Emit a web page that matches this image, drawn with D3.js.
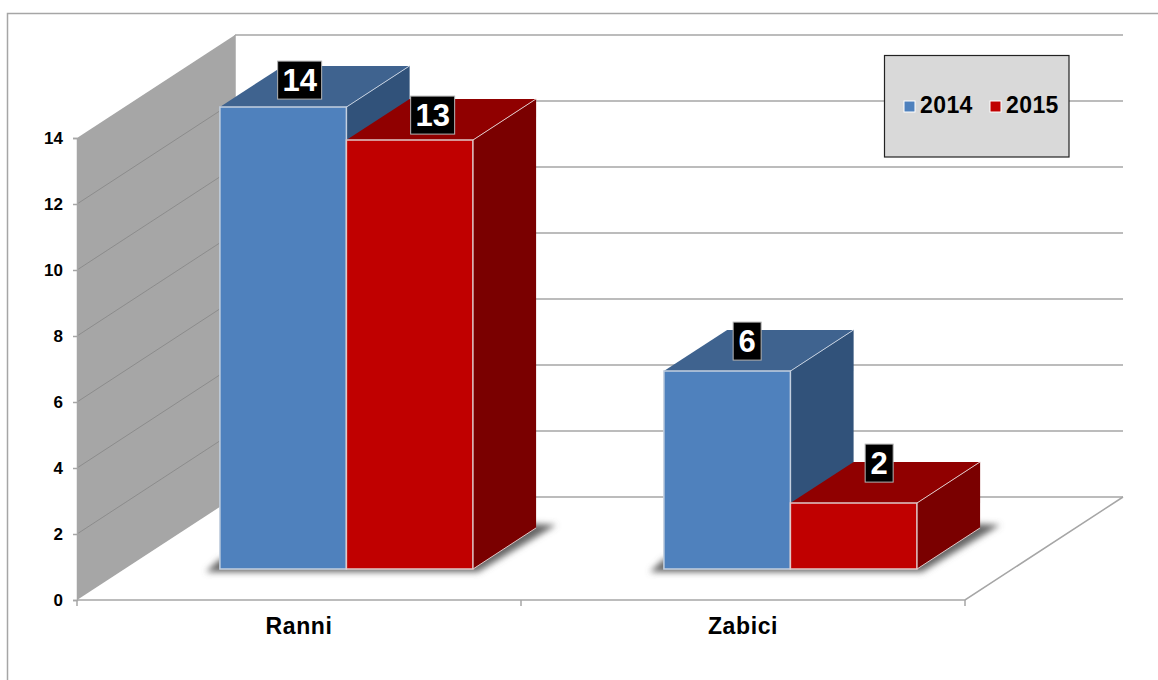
<!DOCTYPE html>
<html>
<head>
<meta charset="utf-8">
<script src="https://cdn.jsdelivr.net/npm/d3@7"></script>
<style>
  html, body { margin: 0; background: #fff; }
  svg { display: block; }
  text { font-family: "Liberation Sans", Arial, sans-serif; font-weight: bold; fill: #000; }
</style>
</head>
<body>
<div class="app"></div>
<script>
var categories = ["Ranni", "Zabici"];
var seriesNames = ["2014", "2015"];
var values2014 = [14, 6];
var values2015 = [13, 2];
var yTicks = [0, 2, 4, 6, 8, 10, 12, 14];

var width = 1158, height = 680;

// the 3d box: front plane of the chart plus the shift to the back wall
var depthX = 158, depthY = -103;
var barFront = 0.3, barBack = 0.7;

var colors = {
  "2014": {front: "#4f81bd", top: "#3f638f", side: "#31527a", edge: "#c3cfdf"},
  "2015": {front: "#c00000", top: "#900000", side: "#7a0000", edge: "#e0c8c8"}
};

var x = d3.scaleBand().domain(categories).range([77, 965]);
var y = d3.scaleLinear().domain([0, 14]).range([600, 138]);
var inner = d3.scaleBand().domain(seriesNames).range([-126.5, 126.5]);

var svg = d3.select(".app").append("svg")
    .attr("width", width)
    .attr("height", height);

var defs = svg.append("defs");
defs.append("filter").attr("id", "soft")
    .attr("x", "-10%").attr("y", "-30%").attr("width", "120%").attr("height", "160%")
  .append("feGaussianBlur").attr("stdDeviation", 3);

// project a point from chart space (px along x, value, depth 0..1) to the screen
function pt(px, value, depth) {
  return [px + depth * depthX, y(value) + depth * depthY];
}
var poly = d3.line();

// outer frame, cut off by the page on the right and bottom
svg.append("path")
    .attr("d", poly([[7.5, height], [7.5, 13.5], [width, 13.5]]))
    .attr("fill", "none")
    .attr("stroke", "#a6a6a6")
    .attr("stroke-width", 1.5);

var x0 = x.range()[0], x1 = x.range()[1];

// side wall
svg.append("path")
    .attr("d", poly([pt(x0, 0, 0), pt(x0, 14, 0), pt(x0, 14, 1), pt(x0, 0, 1)]) + "Z")
    .attr("fill", "#a6a6a6");

// gridlines on the side wall
svg.append("g").selectAll("path")
    .data(yTicks.slice(1, -1))
  .join("path")
    .attr("d", function(d) { return poly([pt(x0, d, 0), pt(x0, d, 1)]); })
    .attr("stroke", "#8c8c8c")
    .attr("stroke-width", 1);

// gridlines on the back wall
svg.append("g").selectAll("path")
    .data(yTicks)
  .join("path")
    .attr("d", function(d) { return poly([pt(x0, d, 1), pt(x1, d, 1)]); })
    .attr("stroke", "#a6a6a6")
    .attr("stroke-width", 1.5);

// back wall left edge and floor outline
svg.append("path")
    .attr("d", poly([pt(x0, 0, 1), pt(x0, 14, 1)]))
    .attr("stroke", "#a6a6a6").attr("stroke-width", 1.5);
svg.append("path")
    .attr("d", poly([pt(x0, 0, 0), pt(x1, 0, 0), pt(x1, 0, 1)]))
    .attr("fill", "none").attr("stroke", "#a6a6a6").attr("stroke-width", 1.5);

// y axis
var yAxis = svg.append("g")
    .attr("transform", "translate(" + x0 + ",0)")
    .call(d3.axisLeft(y).tickValues(yTicks).tickSize(4).tickPadding(10).tickFormat(d3.format("d")));
yAxis.select(".domain").attr("stroke", "#a6a6a6").attr("stroke-width", 1.5);
yAxis.selectAll("line").attr("stroke", "#a6a6a6").attr("stroke-width", 1.5);
yAxis.selectAll("text").attr("font-size", 17).attr("font-family", null).attr("font-weight", null);

// x axis labels
var xAxis = svg.append("g")
    .attr("transform", "translate(0," + y(0) + ")")
    .call(d3.axisBottom(x).tickSize(0).tickPadding(18));
xAxis.select(".domain").remove();
xAxis.selectAll("text")
    .attr("font-size", 23)
    .attr("font-family", null)
    .attr("font-weight", null)
    .attr("letter-spacing", 0.6);

// x axis ticks sit between the categories
svg.append("g").selectAll("line")
    .data([x0, x0 + x.bandwidth(), x1])
  .join("line")
    .attr("x1", function(d) { return d; })
    .attr("x2", function(d) { return d; })
    .attr("y1", y(0))
    .attr("y2", y(0) + 6)
    .attr("stroke", "#a6a6a6")
    .attr("stroke-width", 1.5);

// flat list of bars, far series first so the nearer one paints over it
var bars = [];
categories.forEach(function(c, i) {
  bars.push({cat: c, name: "2014", value: values2014[i]});
  bars.push({cat: c, name: "2015", value: values2015[i]});
});
function left(d) { return x(d.cat) + x.bandwidth() / 2 + inner(d.name); }
function right(d) { return left(d) + inner.bandwidth(); }

// shadow on the floor under each category's pair of bars
svg.append("g").selectAll("path")
    .data(categories)
  .join("path")
    .attr("filter", "url(#soft)")
    .attr("fill", "#666")
    .attr("d", function(c) {
      var l = x(c) + x.bandwidth() / 2 + inner.range()[0];
      var r = x(c) + x.bandwidth() / 2 + inner.range()[1];
      var a = pt(l, 0, barFront), b = pt(r, 0, barFront), e = pt(r, 0, barBack);
      return poly([
        [a[0] - 14, a[1] + 3], [b[0] + 5, b[1] + 3],
        [e[0] + 20, e[1] - 3], [e[0], e[1] - 4], [a[0], a[1] - 10]
      ]) + "Z";
    });

var bar = svg.append("g").selectAll("g")
    .data(bars)
  .join("g");

// side, top and front faces
bar.append("path")
    .attr("fill", function(d) { return colors[d.name].side; })
    .attr("d", function(d) {
      return poly([pt(right(d), 0, barFront), pt(right(d), 0, barBack),
                   pt(right(d), d.value, barBack), pt(right(d), d.value, barFront)]) + "Z";
    });
bar.append("path")
    .attr("fill", function(d) { return colors[d.name].top; })
    .attr("d", function(d) {
      return poly([pt(left(d), d.value, barFront), pt(right(d), d.value, barFront),
                   pt(right(d), d.value, barBack), pt(left(d), d.value, barBack)]) + "Z";
    });
bar.append("path")
    .attr("fill", function(d) { return colors[d.name].front; })
    .attr("stroke", function(d) { return colors[d.name].edge; })
    .attr("stroke-width", 1.5)
    .attr("d", function(d) {
      return poly([pt(left(d), 0, barFront), pt(right(d), 0, barFront),
                   pt(right(d), d.value, barFront), pt(left(d), d.value, barFront)]) + "Z";
    });
// light edges running back from the right corners
bar.append("path")
    .attr("fill", "none")
    .attr("stroke", function(d) { return colors[d.name].edge; })
    .attr("stroke-width", 1)
    .attr("d", function(d) {
      return poly([pt(right(d), d.value, barFront), pt(right(d), d.value, barBack)]) +
             poly([pt(right(d), 0, barFront), pt(right(d), 0, barBack)]);
    });

// value labels were placed by hand in the original, so each has its own nudge
var labelNudge = {
  "Ranni2014": [16.5, -27], "Ranni2015": [23, -25],
  "Zabici2014": [20, -30], "Zabici2015": [25.5, -40]
};
var label = svg.append("g").selectAll("g")
    .data(bars)
  .join("g")
    .attr("transform", function(d) {
      var p = pt((left(d) + right(d)) / 2, d.value, barFront);
      var n = labelNudge[d.cat + d.name];
      return "translate(" + (p[0] + n[0]) + "," + (p[1] + n[1]) + ")";
    });
label.append("rect")
    .attr("x", function(d) { return d.value > 9 ? -22 : -14; })
    .attr("width", function(d) { return d.value > 9 ? 44 : 28; })
    .attr("y", -19)
    .attr("height", 38)
    .attr("fill", "#000")
    .attr("stroke", "#b5b5b5")
    .attr("stroke-width", 1);
label.append("text")
    .attr("text-anchor", "middle")
    .attr("y", 11)
    .attr("font-size", 31)
    .style("fill", "#fff")
    .text(function(d) { return d.value; });

// legend
var legend = svg.append("g");
legend.append("rect")
    .attr("x", 884.5).attr("y", 55.5)
    .attr("width", 184.5).attr("height", 101.5)
    .attr("fill", "#d9d9d9")
    .attr("stroke", "#222")
    .attr("stroke-width", 1.2);
var legendX = d3.scalePoint().domain(seriesNames).range([904, 990]);
var item = legend.selectAll("g")
    .data(seriesNames)
  .join("g")
    .attr("transform", function(d) { return "translate(" + legendX(d) + ",101)"; });
item.append("rect")
    .attr("width", 11).attr("height", 11)
    .attr("fill", function(d) { return colors[d].front; })
    .attr("stroke", "#fff")
    .attr("stroke-width", 1);
item.append("text")
    .attr("x", 16)
    .attr("y", 12)
    .attr("font-size", 23)
    .attr("letter-spacing", 0.4)
    .text(function(d) { return d; });
</script>
</body>
</html>
